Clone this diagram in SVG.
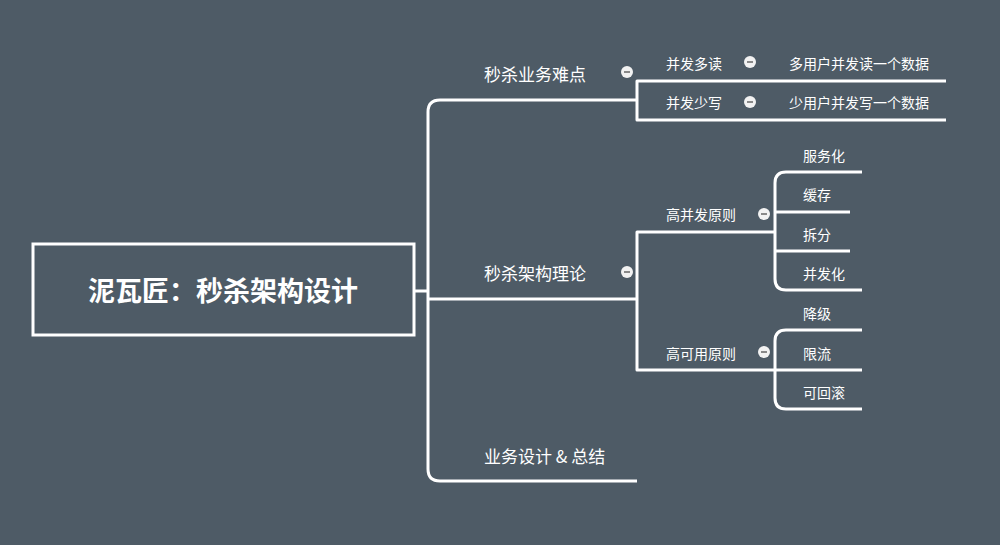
<svg xmlns="http://www.w3.org/2000/svg" width="1000" height="545" viewBox="0 0 1000 545">
<style>
.c{fill:none;stroke:#fff;stroke-width:3;stroke-linejoin:round}
text{fill:#fff;font-family:"Noto Sans CJK SC","Liberation Sans",sans-serif}
.t1{font-size:17px}
.t2{font-size:14px}
.b{fill:#f2f2f2}
.m{stroke:#666;stroke-width:1.5}
</style>
<rect width="1000" height="545" fill="#4e5b66"/>
<g id="connectors">
<path class="c" d="M414,291 H428 M440,100 Q428,100 428,112 V469 Q428,481 440,481 H637 M428,299 H637 M440,100 H637"/>
<path class="c" d="M946,81 H637 V120 H946"/>
<path class="c" d="M775,232 H637 V370 H862"/>
<path class="c" d="M862,172 H786 Q775,172 775,183 V279 Q775,290 786,290 H862 M775,212 H850 M775,251 H850"/>
<path class="c" d="M862,330 H786 Q775,330 775,341 V398 Q775,409 786,409 H862"/>
</g>
<g id="root"><rect x="33" y="244" width="381" height="91" fill="none" stroke="#fff" stroke-width="3"/>
<text x="223" y="301" text-anchor="middle" font-size="27" font-weight="bold">泥瓦匠：秒杀架构设计</text></g>
<g id="n1"><text class="t1" x="484" y="81">秒杀业务难点</text><circle class="b" cx="627" cy="72" r="6"/><path class="m" d="M624,72h6"/></g>
<g id="n2"><text class="t1" x="484" y="280">秒杀架构理论</text><circle class="b" cx="627" cy="272" r="6"/><path class="m" d="M624,272h6"/></g>
<g id="n3"><text class="t1" x="484" y="463">业务设计 &amp; 总结</text></g>
<g id="n11"><text class="t2" x="666" y="69">并发多读</text><circle class="b" cx="750" cy="62" r="6"/><path class="m" d="M747,62h6"/></g>
<g id="n111"><text class="t2" x="789" y="69">多用户并发读一个数据</text></g>
<g id="n12"><text class="t2" x="666" y="108">并发少写</text><circle class="b" cx="750" cy="102" r="6"/><path class="m" d="M747,102h6"/></g>
<g id="n121"><text class="t2" x="789" y="108">少用户并发写一个数据</text></g>
<g id="n21"><text class="t2" x="666" y="220">高并发原则</text><circle class="b" cx="764" cy="214" r="6"/><path class="m" d="M761,214h6"/></g>
<g id="n22"><text class="t2" x="666" y="359">高可用原则</text><circle class="b" cx="764" cy="352" r="6"/><path class="m" d="M761,352h6"/></g>
<g id="a1"><text class="t2" x="803" y="161">服务化</text></g>
<g id="a2"><text class="t2" x="803" y="200">缓存</text></g>
<g id="a3"><text class="t2" x="803" y="240">拆分</text></g>
<g id="a4"><text class="t2" x="803" y="279">并发化</text></g>
<g id="b1"><text class="t2" x="803" y="319">降级</text></g>
<g id="b2"><text class="t2" x="803" y="359">限流</text></g>
<g id="b3"><text class="t2" x="803" y="398">可回滚</text></g>
</svg>
